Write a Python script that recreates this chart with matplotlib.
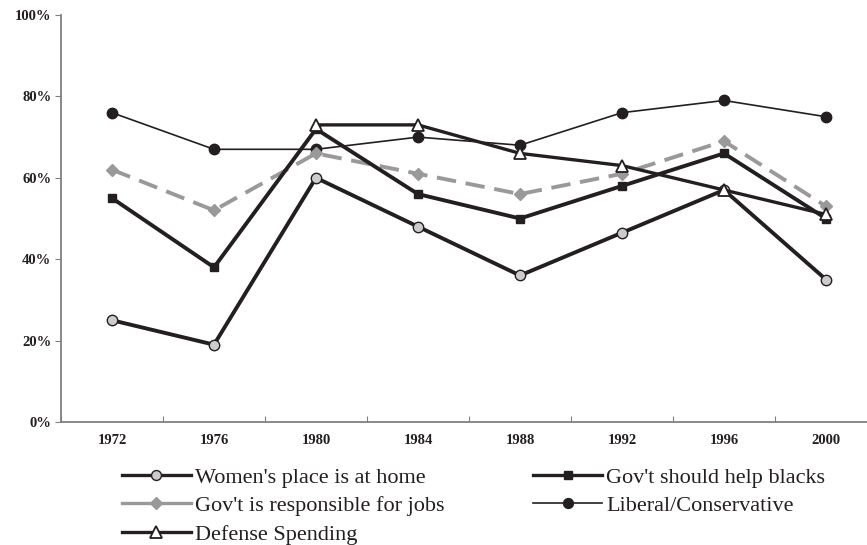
import matplotlib
matplotlib.use("Agg")
import matplotlib.pyplot as plt
from matplotlib.lines import Line2D
from matplotlib.ticker import FuncFormatter

years = ["1972", "1976", "1980", "1984", "1988", "1992", "1996", "2000"]
women_home = [25, 19, 60, 48, 36, 46.5, 57, 35]
help_blacks = [55, 38, 72, 56, 50, 58, 66, 50]
jobs = [62, 52, 66, 61, 56, 61, 69, 53]
lib_cons = [76, 67, 67, 70, 68, 76, 79, 75]
defense = [None, None, 73, 73, 66, 63, 57, 51]

plt.rcParams['font.family'] = ['Liberation Serif', 'DejaVu Serif']

fig = plt.figure(figsize=(8.67, 5.45), dpi=100)
ax = fig.add_axes([61/867, 1-422/545, (877-61)/867, (422-15)/545])

x = list(range(len(years)))
dx = [i for i, v in zip(x, defense) if v is not None]
dv = [v for v in defense if v is not None]

DARK = '#231f20'
GREY = '#999999'

l_lib, = ax.plot(x, lib_cons, color=DARK, lw=1.2, marker='o', ms=7.5,
                 mfc=DARK, mec=DARK, zorder=3)
l_jobs, = ax.plot(x, jobs, color=GREY, lw=2.8, ls=(0, (5, 2.5)), marker='D', ms=6.5,
                  mfc=GREY, mec=GREY, zorder=3)
l_blk, = ax.plot(x, help_blacks, color=DARK, lw=2.8, marker='s', ms=5.5,
                 mfc=DARK, mec=DARK, zorder=4)
l_wom, = ax.plot(x, women_home, color=DARK, lw=2.8, marker='o', ms=7.5,
                 mfc='#cccccc', mec=DARK, mew=1.0, zorder=4)
l_def, = ax.plot(dx, dv, color=DARK, lw=2.4, marker='^', ms=9,
                 mfc='white', mec=DARK, mew=1.3, zorder=5)

ax.set_xlim(-0.5, 7.5)
ax.set_ylim(0, 100)
ax.set_yticks([0, 20, 40, 60, 80, 100])
ax.yaxis.set_major_formatter(FuncFormatter(lambda v, p: f"{int(v)}%"))
ax.set_xticks([i + 0.5 for i in range(-1, 8)], minor=False)
ax.set_xticklabels([])
ax.set_xticks(x, minor=True)
ax.set_xticklabels(years, minor=True)
ax.tick_params(axis='x', which='minor', length=0, pad=9)
ax.tick_params(axis='x', which='major', length=4, color='#808080', direction='in')
ax.tick_params(axis='y', length=4, color='#808080', direction='out', pad=3)
for lab in ax.get_xticklabels(minor=True) + ax.get_yticklabels():
    lab.set_fontweight('bold')
    lab.set_fontsize(10.5)
    lab.set_color(DARK)
for s in ['top', 'right']:
    ax.spines[s].set_visible(False)
for s in ['left', 'bottom']:
    ax.spines[s].set_color('#808080')
    ax.spines[s].set_linewidth(1.3)

# legend handles (solid lines in the legend, as in the reference)
def handle(line, lw):
    return Line2D([], [], color=line.get_color(), lw=lw, ls='-',
                  marker=line.get_marker(), ms=line.get_markersize() * 0.95,
                  mfc=line.get_markerfacecolor(), mec=line.get_markeredgecolor(),
                  mew=line.get_markeredgewidth())

ordered_h = [handle(l_wom, 2.4), handle(l_jobs, 2.4), handle(l_def, 2.4),
             handle(l_blk, 2.4), handle(l_lib, 1.2)]
ordered_l = ["Women's place is at home", "Gov't is responsible for jobs", "Defense Spending",
             "Gov't should help blacks", "Liberal/Conservative"]
leg = fig.legend(ordered_h, ordered_l, loc='upper left', bbox_to_anchor=(122/867, 1-467/545),
                 ncol=2, frameon=False, fontsize=16, handlelength=3.1, handletextpad=0.18,
                 columnspacing=4.0, labelspacing=0.36, borderpad=0, borderaxespad=0)
for t in leg.get_texts():
    t.set_color(DARK)

fig.savefig('out.png', dpi=100)
